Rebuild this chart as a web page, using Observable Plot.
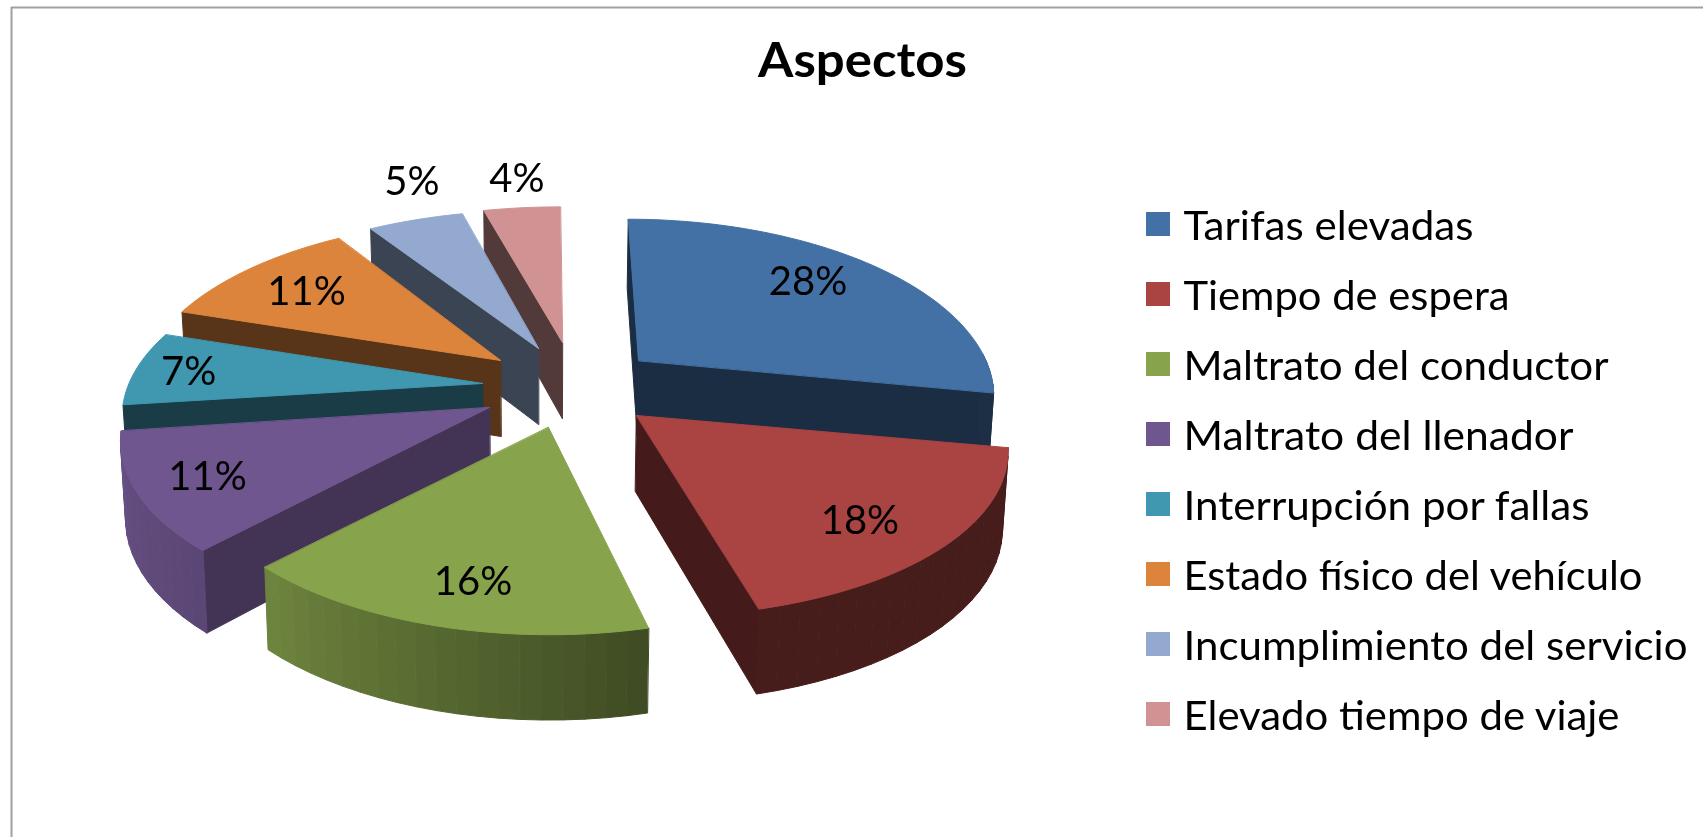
<!DOCTYPE html>
<html lang="es">
<head>
<meta charset="utf-8">
<title>Aspectos</title>
<script src="https://cdn.jsdelivr.net/npm/d3@7"></script>
<script src="https://cdn.jsdelivr.net/npm/@observablehq/plot@0.6"></script>
<style>
html,body{margin:0;padding:0;background:#fff;overflow:hidden}
svg{display:block;filter:blur(.45px)}
</style>
</head>
<body>
<div id="chart"></div>
<script>
// --- data ---
const title = "Aspectos";
const categories = ["Tarifas elevadas","Tiempo de espera","Maltrato del conductor","Maltrato del llenador","Interrupción por fallas","Estado físico del vehículo","Incumplimiento del servicio","Elevado tiempo de viaje"];
const values = [28,18,16,11,7,11,5,4];
const colors = ["#4471a5","#a94442","#87a34c","#6f568f","#3f97b0","#dc843c","#93a9cf","#d09292"];

// --- layout of the exploded 3-D pie (per-slice apex, radius factors, rotation, label placement) ---
const apexX = [638,636,548,489,482,500,538,562];
const apexY = [360,415,427,407,383,360,348,342];
const scaleX = [.965,1.01,.99,1.006,.982,.985,1,1];
const scaleY = [1,1,1.03,1.02,1,1,.98,.96];
const turn = [0,0,1.1,-.6,0,0,0,0];
const labelFx = [.725,.72,.665,.80,.85,.775,1.03,1.12];
const labelFy = [.84,.80,.77,.79,.85,.76,1.31,1.23];
const sideShade = [.4,.4,.4,.6,.4,.4,.4,.4];
const legendWidths = [290,326,425,390,406,459,504,436];
const RX = 360, RY = 166, K = .175, DEPTH = 76, CX = 540, SHEAR = 7.4e-4, CONVERGE = .012;
const rad = d => d * Math.PI / 180;

function rim(i, deg) {
  const t = rad(deg + turn[i]), s = 1 / (1 + K * Math.cos(t));
  const dy = -RY * Math.cos(t) * s * scaleY[i];
  const dx = RX * Math.sin(t) * s * scaleX[i] + SHEAR * (apexX[i] - CX) * dy;
  return {x: apexX[i] + dx, y: apexY[i] + dy, s};
}
function down(p, s = 1) {
  return {x: p.x - CONVERGE * (p.x - CX), y: p.y + DEPTH * Math.pow(s, .6)};
}
function shade(c, f) {
  const r = d3.rgb(c);
  return d3.rgb(r.r * f, r.g * f, r.b * f).formatRgb();
}
const arcShade = d3.scaleLinear().domain([0, 165.6, 165.7, 223.2, 262.8]).range([.42, .42, .46, .82, .93]);

let acc = 0;
const slices = values.map((v, i) => {
  const a0 = acc / 100 * 360; acc += v;
  const a1 = acc / 100 * 360;
  return {i, v, a0, a1, mid: (a0 + a1) / 2};
});
const order = slices.slice().sort((a, b) => Math.cos(rad(b.mid)) - Math.cos(rad(a.mid)));

const polys = [];
let id = 0;
function addPoly(points, color) {
  id++;
  for (const p of points) polys.push({x: p.x, y: p.y, id, color});
}
for (const sl of order) {
  const {i, a0, a1} = sl;
  const apex = {x: apexX[i], y: apexY[i]};
  const wall = shade(colors[i], sideShade[i]);
  // radial faces that look toward the viewer
  if (Math.sin(rad(a0)) <= 1e-6) {
    const r = rim(i, a0);
    addPoly([apex, r, down(r, r.s), down(apex)], wall);
  }
  if (Math.sin(rad(a1)) > 1e-6) {
    const r = rim(i, a1);
    addPoly([apex, r, down(r, r.s), down(apex)], wall);
  }
  // outer wall, in narrow strips as in the banded original
  const lo = Math.max(a0, 88), hi = Math.min(a1, 263);
  if (hi - lo > 1) {
    const n = Math.ceil((hi - lo) / 3);
    for (let k = 0; k < n; k++) {
      const d0 = lo + (hi - lo) * k / n, d1 = lo + (hi - lo) * (k + 1) / n;
      const p0 = rim(i, d0), p1 = rim(i, d1);
      addPoly([p0, p1, down(p1, p1.s), down(p0, p0.s)], shade(colors[i], arcShade((d0 + d1) / 2)));
    }
  }
  // top face
  const n = Math.ceil((a1 - a0) / 1.5), top = [apex];
  for (let k = 0; k <= n; k++) top.push(rim(i, a0 + (a1 - a0) * k / n));
  addPoly(top, colors[i]);
}

const pctLabels = slices.map(sl => {
  const r = rim(sl.i, sl.mid);
  return {
    text: sl.v + "%",
    x: apexX[sl.i] + (r.x - apexX[sl.i]) * labelFx[sl.i],
    y: apexY[sl.i] + (r.y - apexY[sl.i]) * labelFy[sl.i]
  };
});
const legendRows = categories.map((name, i) => ({name, color: colors[i], y: 224 + i * 70}));

const FONT = "Lato, 'Open Sans', sans-serif";
const plot = Plot.plot({
  width: 1703, height: 837,
  marginTop: 0, marginRight: 0, marginBottom: 0, marginLeft: 0,
  x: {domain: [0, 1703], range: [0, 1703], axis: null},
  y: {domain: [0, 837], range: [0, 837], axis: null},
  color: {type: "identity"},
  style: {background: "#fff", fontFamily: FONT},
  marks: [
    Plot.ruleX([11], {y1: 7, y2: 837, stroke: "#a0a0a0", strokeWidth: 2}),
    Plot.ruleY([7], {x1: 11, x2: 1703, stroke: "#a0a0a0", strokeWidth: 2}),
    Plot.line(polys, {x: "x", y: "y", z: "id", fill: d => d.color, stroke: d => d.color, strokeWidth: 1, curve: "linear-closed"}),
    Plot.text(pctLabels, {x: "x", y: d => d.y + 2, text: "text", fontSize: 40, fill: "#000", textAnchor: "middle", lineAnchor: "middle"}),
    Plot.text([title], {x: 862, y: 61, text: d => d, fontSize: 48, fontWeight: 700, fill: "#000", textAnchor: "middle", lineAnchor: "middle", className: "chart-title"}),
    Plot.rect(legendRows, {x1: 1146, x2: 1170, y1: d => d.y - 12, y2: d => d.y + 12, fill: d => d.color}),
    Plot.text(legendRows, {x: 1183, y: d => d.y + 3, text: "name", fontSize: 40, fill: "#000", textAnchor: "start", lineAnchor: "middle", className: "legend-label"})
  ]
});
document.getElementById("chart").append(plot);
d3.select(plot).selectAll(".legend-label text").each(function (d, j) {
  this.setAttribute("textLength", legendWidths[j]);
  this.setAttribute("lengthAdjust", "spacingAndGlyphs");
});
d3.select(plot).selectAll(".chart-title text").attr("textLength", 209).attr("lengthAdjust", "spacingAndGlyphs");
</script>
</body>
</html>
